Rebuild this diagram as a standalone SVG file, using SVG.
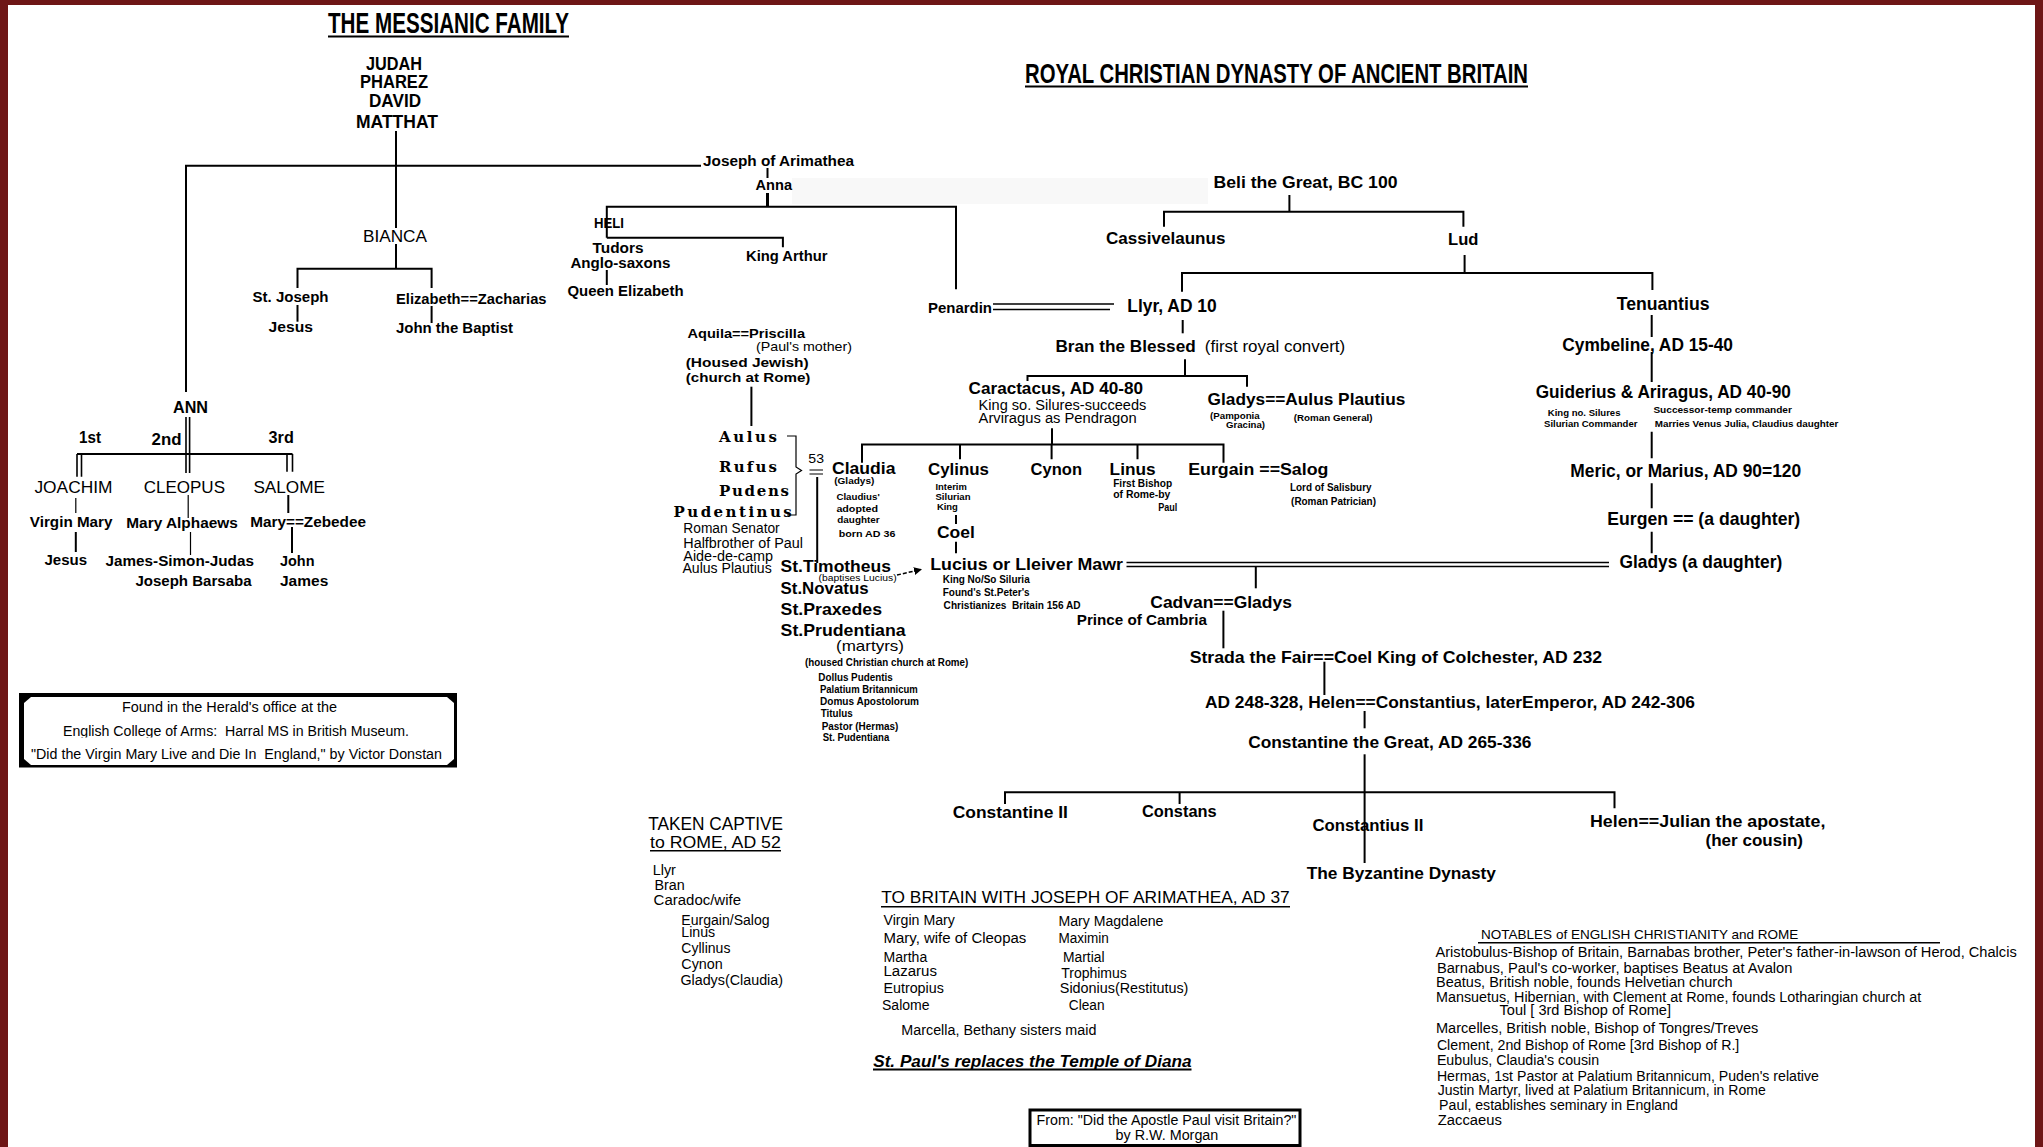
<svg xmlns="http://www.w3.org/2000/svg" width="2043" height="1147" viewBox="0 0 2043 1147">
<style>
text{fill:#000}
.b{font-family:"Liberation Sans Narrow","Liberation Sans",Arial,sans-serif;font-weight:bold}
.r{font-family:"Liberation Sans Narrow","Liberation Sans",Arial,sans-serif;font-weight:normal}
.a{font-family:"Liberation Sans",Arial,sans-serif;font-weight:normal}
.bi{font-family:"Liberation Sans",Arial,sans-serif;font-weight:bold;font-style:italic}
.s{font-family:"DejaVu Serif","Liberation Serif",serif;font-weight:bold}
.pre{white-space:pre}
.f9{font-size:9.5px}.f10{font-size:10.5px}.f12{font-size:12px}.f13{font-size:13px}.f14{font-size:14px}.f15{font-size:15px}.f16{font-size:16px}.f17{font-size:17px}.f18{font-size:18.5px}.f28{font-size:28px}.f30{font-size:30px}
.ln path,.ul{stroke:#000;stroke-width:2;fill:none}
.ln .thin{stroke-width:1.2}
.ln .thick{stroke-width:3}
.ln .dbl{stroke-width:1.6}
.ln .dash{stroke-dasharray:4 2;stroke-width:1.5}
</style>
<defs>
<marker id="arr" markerWidth="8" markerHeight="8" refX="7" refY="4" orient="auto" markerUnits="userSpaceOnUse"><path d="M0,0 L8,4 L0,8 z" fill="#000"/></marker>
<clipPath id="clipDesc"><rect x="20" y="715" width="440" height="22.5"/></clipPath>
</defs>
<rect width="2043" height="1147" fill="#6e1616"/>
<rect x="8" y="5" width="2027" height="1142" fill="#fff"/>
<rect x="792" y="178" width="416" height="26" fill="#f8f8f8"/>

<g id="titles">
<text class="b f30" x="328" y="33" textLength="241" lengthAdjust="spacingAndGlyphs">THE MESSIANIC FAMILY</text>
<line class="ul" x1="328" y1="36.5" x2="569" y2="36.5"/>
<text class="b f28" x="1025" y="83" textLength="503" lengthAdjust="spacingAndGlyphs">ROYAL CHRISTIAN DYNASTY OF ANCIENT BRITAIN</text>
<line class="ul" x1="1025" y1="86.5" x2="1528" y2="86.5"/>
</g>

<g id="connectors" class="ln">
<path d="M396,131 V228"/>
<path d="M186,392 V165.7 H701"/>
<path d="M396,244 V268.7"/>
<path d="M297.5,288 V268.7 H431.6 V288"/>
<path d="M297.5,305 V321.7"/>
<path d="M431.6,306 V323"/>
<path d="M767.5,168 V178"/>
<path class="thick" d="M767.5,193 V206"/>
<path d="M606.8,237.7 V206.7 H956 V289.3"/>
<path d="M606.8,237.7 H782.9 V247.3"/>
<path d="M606.8,270 V285"/>
<path class="dbl" d="M993,304 H1114 M993,309.5 H1110"/>
<path d="M751.4,386.7 V426"/>
<path class="thin" d="M787,436 H796 V467 L801.5,470.5 L796,474 V515 H787"/>
<path class="thin" d="M809.5,470 H823 M809.5,474 H823"/>
<path d="M817.2,477 V563"/>
<path class="dash" d="M897,575 L921,569.5" marker-end="url(#arr)"/>
<path class="dbl" d="M186,417 V473 M189.6,417 V473"/>
<path d="M77,454 H292.5"/>
<path class="dbl" d="M77,454 V476.7 M81.5,454 V476.7"/>
<path class="dbl" d="M287,454 V471.7 M292.5,454 V471.7"/>
<path class="thin" d="M75.8,498 V513"/>
<path class="thin" d="M188.2,495 V518"/>
<path d="M288.3,495 V513"/>
<path d="M75.8,532 V552"/>
<path class="thin" d="M190.5,532 V555"/>
<path d="M292,527 V553"/>
<path d="M1289.4,195 V211.7"/>
<path d="M1164,226.7 V211.7 H1463.4 V226.7"/>
<path d="M1464.6,255 V273"/>
<path d="M1182,291.7 V273 H1652.4 V290"/>
<path d="M1182.7,320 V333.3"/>
<path d="M1185,359.3 V376"/>
<path d="M1027.5,381 V376 H1247 V386.7"/>
<path d="M1052,428.3 V444.5"/>
<path d="M862,462.7 V444.5 H1223.5 V462.7"/>
<path d="M960,444.5 V459.3 M1051.6,444.5 V459.3 M1137.5,444.5 V459.3"/>
<path d="M956,515 V524 M956,541.7 V553.3"/>
<path class="dbl" d="M1126.5,562.5 H1609 M1126.5,566.5 H1609"/>
<path d="M1255.8,567 V588.3"/>
<path d="M1223.4,610.7 V648.3"/>
<path d="M1324.4,661.7 V695"/>
<path d="M1364.6,711 V728.3"/>
<path d="M1364.6,754.3 V863"/>
<path d="M1005,804 V792.3 H1614.5 V808.3"/>
<path d="M1179.6,792.3 V804"/>
<path d="M1651.7,315 V337 M1651.7,352 V382 M1651.7,431.7 V458.3 M1651.7,483.3 V508.3 M1651.7,531.7 V553.3"/>
</g>

<g id="n-ancestors">
<text class="b f18" x="366" y="69.5" textLength="56" lengthAdjust="spacingAndGlyphs">JUDAH</text>
<text class="b f18" x="360" y="88" textLength="68" lengthAdjust="spacingAndGlyphs">PHAREZ</text>
<text class="b f18" x="369" y="106.5" textLength="52" lengthAdjust="spacingAndGlyphs">DAVID</text>
<text class="b f18" x="356" y="128" textLength="82" lengthAdjust="spacingAndGlyphs">MATTHAT</text>
</g>
<g id="n-bianca"><text class="r f17" x="363" y="241.5" textLength="64" lengthAdjust="spacingAndGlyphs">BIANCA</text></g>
<g id="n-stjoseph"><text class="b f15" x="252.5" y="301.5" textLength="76" lengthAdjust="spacingAndGlyphs">St. Joseph</text></g>
<g id="n-jesus1"><text class="b f15" x="268.6" y="332.3" textLength="44.4" lengthAdjust="spacingAndGlyphs">Jesus</text></g>
<g id="n-elizabeth"><text class="b f15" x="396" y="304" textLength="150.5" lengthAdjust="spacingAndGlyphs">Elizabeth==Zacharias</text></g>
<g id="n-john-baptist"><text class="b f15" x="396" y="333.3" textLength="117" lengthAdjust="spacingAndGlyphs">John the Baptist</text></g>
<g id="n-joseph-arimathea"><text class="b f14" x="703" y="166" textLength="151" lengthAdjust="spacingAndGlyphs">Joseph of Arimathea</text></g>
<g id="n-anna"><text class="b f14" x="755.5" y="190" textLength="36.5" lengthAdjust="spacingAndGlyphs">Anna</text></g>
<g id="n-heli"><text class="b f14" x="594" y="228.3" textLength="30" lengthAdjust="spacingAndGlyphs">HELI</text></g>
<g id="n-tudors">
<text class="b f14" x="592.5" y="253.3" textLength="51" lengthAdjust="spacingAndGlyphs">Tudors</text>
<text class="b f14" x="570.4" y="268.3" textLength="100" lengthAdjust="spacingAndGlyphs">Anglo-saxons</text>
</g>
<g id="n-queen"><text class="b f14" x="567.5" y="296" textLength="116" lengthAdjust="spacingAndGlyphs">Queen Elizabeth</text></g>
<g id="n-arthur"><text class="b f14" x="746" y="260.7" textLength="81.5" lengthAdjust="spacingAndGlyphs">King Arthur</text></g>
<g id="n-penardin"><text class="b f14" x="928" y="313.3" textLength="64" lengthAdjust="spacingAndGlyphs">Penardin</text></g>
<g id="n-aquila">
<text class="b f13" x="687.5" y="338.3" textLength="117.5" lengthAdjust="spacingAndGlyphs">Aquila==Priscilla</text>
<text class="r f13" x="756" y="351" textLength="96" lengthAdjust="spacingAndGlyphs">(Paul's mother)</text>
<text class="b f13" x="685.7" y="366.7" textLength="123" lengthAdjust="spacingAndGlyphs">(Housed Jewish)</text>
<text class="b f13" x="685.7" y="382.3" textLength="124.7" lengthAdjust="spacingAndGlyphs">(church at Rome)</text>
</g>
<g id="n-aulus">
<text class="s f15" x="719" y="441.7" textLength="58" lengthAdjust="spacing">Aulus</text>
<text class="s f15" x="719" y="471.7" textLength="58" lengthAdjust="spacing">Rufus</text>
<text class="s f15" x="719" y="496" textLength="70" lengthAdjust="spacing">Pudens</text>
<text class="s f15" x="673.5" y="517.3" textLength="118.3" lengthAdjust="spacing">Pudentinus</text>
<text class="r f14" x="683.3" y="533.3" textLength="96.4" lengthAdjust="spacingAndGlyphs">Roman Senator</text>
<text class="r f14" x="683.3" y="547.7" textLength="119.7" lengthAdjust="spacingAndGlyphs">Halfbrother of Paul</text>
<text class="r f14" x="683.3" y="560.7" textLength="89.7" lengthAdjust="spacingAndGlyphs">Aide-de-camp</text>
<text class="r f14" x="682.4" y="573.3" textLength="89.3" lengthAdjust="spacingAndGlyphs">Aulus Plautius</text>
<text class="r f12" x="808.3" y="463.3" textLength="15.7" lengthAdjust="spacingAndGlyphs">53</text>
</g>
<g id="n-timotheus">
<text class="b f17" x="780.6" y="571.7" textLength="110.3" lengthAdjust="spacingAndGlyphs">St.Timotheus</text>
<text class="r f9" x="818.6" y="580.5" textLength="78" lengthAdjust="spacingAndGlyphs">(baptises Lucius)</text>
<text class="b f17" x="780.6" y="594" textLength="88" lengthAdjust="spacingAndGlyphs">St.Novatus</text>
<text class="b f17" x="780.6" y="615" textLength="101.4" lengthAdjust="spacingAndGlyphs">St.Praxedes</text>
<text class="b f17" x="780.6" y="635.5" textLength="125" lengthAdjust="spacingAndGlyphs">St.Prudentiana</text>
<text class="r f15" x="836" y="651" textLength="68" lengthAdjust="spacingAndGlyphs">(martyrs)</text>
<text class="b f10" x="805" y="665.7" textLength="163.3" lengthAdjust="spacingAndGlyphs">(housed Christian church at Rome)</text>
<text class="b f10" x="818.3" y="681" textLength="74.4" lengthAdjust="spacingAndGlyphs">Dollus Pudentis</text>
<text class="b f10" x="820" y="693.3" textLength="97.7" lengthAdjust="spacingAndGlyphs">Palatium Britannicum</text>
<text class="b f10" x="820" y="705" textLength="99" lengthAdjust="spacingAndGlyphs">Domus Apostolorum</text>
<text class="b f10" x="820.7" y="716.7" textLength="32" lengthAdjust="spacingAndGlyphs">Titulus</text>
<text class="b f10" x="821.7" y="730" textLength="76.6" lengthAdjust="spacingAndGlyphs">Pastor (Hermas)</text>
<text class="b f10" x="822.7" y="740.7" textLength="66.6" lengthAdjust="spacingAndGlyphs">St. Pudentiana</text>
</g>

<g id="n-ann">
<text class="b f17" x="173" y="412.7" textLength="35" lengthAdjust="spacingAndGlyphs">ANN</text>
<text class="b f17" x="79" y="442.7" textLength="22" lengthAdjust="spacingAndGlyphs">1st</text>
<text class="b f17" x="151.5" y="445" textLength="30" lengthAdjust="spacingAndGlyphs">2nd</text>
<text class="b f17" x="268.6" y="443.3" textLength="25.2" lengthAdjust="spacingAndGlyphs">3rd</text>
</g>
<g id="n-joachim"><text class="r f17" x="34.4" y="493.3" textLength="78.1" lengthAdjust="spacingAndGlyphs">JOACHIM</text></g>
<g id="n-cleopus"><text class="r f17" x="143.7" y="492.7" textLength="81.3" lengthAdjust="spacingAndGlyphs">CLEOPUS</text></g>
<g id="n-salome"><text class="r f17" x="253.4" y="492.7" textLength="71.6" lengthAdjust="spacingAndGlyphs">SALOME</text></g>
<g id="n-virgin-mary"><text class="b f15" x="29.8" y="527.3" textLength="82.7" lengthAdjust="spacingAndGlyphs">Virgin Mary</text></g>
<g id="n-mary-alphaews"><text class="b f15" x="126.3" y="528.3" textLength="111.5" lengthAdjust="spacingAndGlyphs">Mary Alphaews</text></g>
<g id="n-mary-zebedee"><text class="b f15" x="250.2" y="527.3" textLength="115.8" lengthAdjust="spacingAndGlyphs">Mary==Zebedee</text></g>
<g id="n-jesus2"><text class="b f15" x="44.5" y="565" textLength="42.7" lengthAdjust="spacingAndGlyphs">Jesus</text></g>
<g id="n-james-simon">
<text class="b f15" x="105.6" y="566" textLength="148.3" lengthAdjust="spacingAndGlyphs">James-Simon-Judas</text>
<text class="b f15" x="135.4" y="586" textLength="116.2" lengthAdjust="spacingAndGlyphs">Joseph Barsaba</text>
</g>
<g id="n-john-james">
<text class="b f15" x="280" y="566" textLength="34.5" lengthAdjust="spacingAndGlyphs">John</text>
<text class="b f15" x="280" y="586" textLength="48.3" lengthAdjust="spacingAndGlyphs">James</text>
</g>

<g id="box-herald">
<rect x="19" y="693" width="438" height="74.5" fill="#000"/>
<polygon points="31,697 447,697 454,703 454,759 447,765 31,765 24,759 24,703" fill="#fff"/>
<text class="a f14" x="122" y="711.5" textLength="215" lengthAdjust="spacingAndGlyphs">Found in the Herald's office at the</text>
<text class="a f14 pre" x="63" y="736" textLength="346" lengthAdjust="spacingAndGlyphs" clip-path="url(#clipDesc)">English College of Arms:  Harral MS in British Museum.</text>
<text class="a f14 pre" x="31" y="758.5" textLength="411" lengthAdjust="spacingAndGlyphs">"Did the Virgin Mary Live and Die In  England," by Victor Donstan</text>
</g>

<g id="n-beli"><text class="b f17" x="1213.5" y="188.3" textLength="184" lengthAdjust="spacingAndGlyphs">Beli the Great, BC 100</text></g>
<g id="n-cassivelaunus"><text class="b f17" x="1106" y="244" textLength="119.4" lengthAdjust="spacingAndGlyphs">Cassivelaunus</text></g>
<g id="n-lud"><text class="b f17" x="1448" y="245" textLength="30.4" lengthAdjust="spacingAndGlyphs">Lud</text></g>
<g id="n-llyr"><text class="b f18" x="1127.3" y="311.7" textLength="89.4" lengthAdjust="spacingAndGlyphs">Llyr, AD 10</text></g>
<g id="n-bran">
<text class="b f17" x="1055.4" y="351.7" textLength="140.3" lengthAdjust="spacingAndGlyphs">Bran the Blessed</text>
<text class="r f16" x="1204.8" y="351.7" textLength="140.4" lengthAdjust="spacingAndGlyphs">(first royal convert)</text>
</g>
<g id="n-caractacus">
<text class="b f17" x="968.6" y="394" textLength="174.4" lengthAdjust="spacingAndGlyphs">Caractacus, AD 40-80</text>
<text class="r f14" x="978.6" y="410" textLength="167.7" lengthAdjust="spacingAndGlyphs">King so. Silures-succeeds</text>
<text class="r f14" x="978.6" y="423.3" textLength="158" lengthAdjust="spacingAndGlyphs">Arviragus as Pendragon</text>
</g>
<g id="n-gladys-aulus">
<text class="b f17" x="1207.6" y="405" textLength="197.7" lengthAdjust="spacingAndGlyphs">Gladys==Aulus Plautius</text>
<text class="b f9" x="1210" y="419" textLength="49.7" lengthAdjust="spacingAndGlyphs">(Pamponia</text>
<text class="b f9" x="1226" y="428.3" textLength="39" lengthAdjust="spacingAndGlyphs">Gracina)</text>
<text class="b f9" x="1293.8" y="420.7" textLength="78.8" lengthAdjust="spacingAndGlyphs">(Roman General)</text>
</g>
<g id="n-claudia">
<text class="b f17" x="832" y="474" textLength="63.4" lengthAdjust="spacingAndGlyphs">Claudia</text>
<text class="b f9" x="834.2" y="484.3" textLength="40.2" lengthAdjust="spacingAndGlyphs">(Gladys)</text>
<text class="b f9" x="836.4" y="500" textLength="43.3" lengthAdjust="spacingAndGlyphs">Claudius'</text>
<text class="b f9" x="836.4" y="512.3" textLength="41.6" lengthAdjust="spacingAndGlyphs">adopted</text>
<text class="b f9" x="837.3" y="523.3" textLength="42.4" lengthAdjust="spacingAndGlyphs">daughter</text>
<text class="b f9" x="838.7" y="536.7" textLength="56.7" lengthAdjust="spacingAndGlyphs">born AD 36</text>
</g>
<g id="n-cylinus">
<text class="b f17" x="928" y="475" textLength="61" lengthAdjust="spacingAndGlyphs">Cylinus</text>
<text class="b f9" x="935.5" y="490" textLength="31.3" lengthAdjust="spacingAndGlyphs">Interim</text>
<text class="b f9" x="935.5" y="500" textLength="35" lengthAdjust="spacingAndGlyphs">Silurian</text>
<text class="b f9" x="936.9" y="510" textLength="21" lengthAdjust="spacingAndGlyphs">King</text>
</g>
<g id="n-coel"><text class="b f17" x="936.9" y="538.3" textLength="37.9" lengthAdjust="spacingAndGlyphs">Coel</text></g>
<g id="n-cynon"><text class="b f17" x="1030.6" y="475" textLength="51.4" lengthAdjust="spacingAndGlyphs">Cynon</text></g>
<g id="n-linus">
<text class="b f17" x="1109.6" y="475" textLength="46" lengthAdjust="spacingAndGlyphs">Linus</text>
<text class="b f10" x="1113.2" y="487.3" textLength="58.9" lengthAdjust="spacingAndGlyphs">First Bishop</text>
<text class="b f10" x="1113.2" y="497.7" textLength="57.2" lengthAdjust="spacingAndGlyphs">of Rome-by</text>
<text class="b f10" x="1158.3" y="511" textLength="19.1" lengthAdjust="spacingAndGlyphs">Paul</text>
</g>
<g id="n-eurgain">
<text class="b f17 pre" x="1188.2" y="475" textLength="140.2" lengthAdjust="spacingAndGlyphs">Eurgain ==Salog</text>
<text class="b f10" x="1290" y="490.7" textLength="81.5" lengthAdjust="spacingAndGlyphs">Lord of Salisbury</text>
<text class="b f10" x="1291.1" y="505" textLength="84.9" lengthAdjust="spacingAndGlyphs">(Roman Patrician)</text>
</g>
<g id="n-lucius">
<text class="b f17" x="930.2" y="570" textLength="192.8" lengthAdjust="spacingAndGlyphs">Lucius or Lleiver Mawr</text>
<text class="b f10" x="942.7" y="583.3" textLength="87" lengthAdjust="spacingAndGlyphs">King No/So Siluria</text>
<text class="b f10" x="942.7" y="596" textLength="87" lengthAdjust="spacingAndGlyphs">Found's St.Peter's</text>
<text class="b f10 pre" x="943.6" y="609" textLength="137" lengthAdjust="spacingAndGlyphs">Christianizes  Britain 156 AD</text>
</g>
<g id="n-cadvan">
<text class="b f17" x="1150.3" y="608.3" textLength="141.6" lengthAdjust="spacingAndGlyphs">Cadvan==Gladys</text>
<text class="b f15" x="1076.8" y="625" textLength="130.1" lengthAdjust="spacingAndGlyphs">Prince of Cambria</text>
</g>
<g id="n-strada"><text class="b f17" x="1189.7" y="663.3" textLength="412.5" lengthAdjust="spacingAndGlyphs">Strada the Fair==Coel King of Colchester, AD 232</text></g>
<g id="n-helen"><text class="b f17" x="1205" y="708.3" textLength="490" lengthAdjust="spacingAndGlyphs">AD 248-328, Helen==Constantius, laterEmperor, AD 242-306</text></g>
<g id="n-constantine"><text class="b f17" x="1248.2" y="747.7" textLength="283.2" lengthAdjust="spacingAndGlyphs">Constantine the Great, AD 265-336</text></g>
<g id="n-constantine2"><text class="b f17" x="952.7" y="818.3" textLength="115.2" lengthAdjust="spacingAndGlyphs">Constantine II</text></g>
<g id="n-constans"><text class="b f17" x="1142" y="817.3" textLength="74.7" lengthAdjust="spacingAndGlyphs">Constans</text></g>
<g id="n-constantius2"><text class="b f17" x="1312.4" y="830.7" textLength="111" lengthAdjust="spacingAndGlyphs">Constantius II</text></g>
<g id="n-byzantine"><text class="b f17" x="1306.7" y="879.3" textLength="189.3" lengthAdjust="spacingAndGlyphs">The Byzantine Dynasty</text></g>
<g id="n-helen-julian">
<text class="b f17" x="1590" y="827.3" textLength="235.4" lengthAdjust="spacingAndGlyphs">Helen==Julian the apostate,</text>
<text class="b f17" x="1705.5" y="846" textLength="97.5" lengthAdjust="spacingAndGlyphs">(her cousin)</text>
</g>
<g id="n-tenuantius"><text class="b f18" x="1616.7" y="310" textLength="92.8" lengthAdjust="spacingAndGlyphs">Tenuantius</text></g>
<g id="n-cymbeline"><text class="b f18" x="1562.3" y="350.7" textLength="170.7" lengthAdjust="spacingAndGlyphs">Cymbeline, AD 15-40</text></g>
<g id="n-guiderius">
<text class="b f18" x="1535.7" y="398.3" textLength="255.2" lengthAdjust="spacingAndGlyphs">Guiderius &amp; Ariragus, AD 40-90</text>
<text class="b f9" x="1547.8" y="415.7" textLength="72.7" lengthAdjust="spacingAndGlyphs">King no. Silures</text>
<text class="b f9" x="1544" y="426.7" textLength="93.5" lengthAdjust="spacingAndGlyphs">Silurian Commander</text>
<text class="b f9" x="1653.4" y="413.3" textLength="138.5" lengthAdjust="spacingAndGlyphs">Successor-temp commander</text>
<text class="b f9" x="1654.8" y="426.7" textLength="183.5" lengthAdjust="spacingAndGlyphs">Marries Venus Julia, Claudius daughter</text>
</g>
<g id="n-meric"><text class="b f18" x="1570.3" y="477.3" textLength="230.9" lengthAdjust="spacingAndGlyphs">Meric, or Marius, AD 90=120</text></g>
<g id="n-eurgen"><text class="b f18" x="1607.3" y="525" textLength="192.9" lengthAdjust="spacingAndGlyphs">Eurgen == (a daughter)</text></g>
<g id="n-gladys-daughter"><text class="b f18" x="1619.5" y="568.3" textLength="162.7" lengthAdjust="spacingAndGlyphs">Gladys (a daughter)</text></g>

<g id="list-captive">
<text class="a f18" x="648.2" y="830" textLength="134.8" lengthAdjust="spacingAndGlyphs">TAKEN CAPTIVE</text>
<text class="a f17" x="650" y="848.3" textLength="130.8" lengthAdjust="spacingAndGlyphs">to ROME, AD 52</text>
<line class="ul" x1="650" y1="850.8" x2="781" y2="850.8" style="stroke-width:1.4"/>
<text class="a f14" x="652.7" y="875" textLength="23.2" lengthAdjust="spacingAndGlyphs">Llyr</text>
<text class="a f14" x="654.5" y="890" textLength="30.3" lengthAdjust="spacingAndGlyphs">Bran</text>
<text class="a f14" x="653.6" y="905" textLength="87.4" lengthAdjust="spacingAndGlyphs">Caradoc/wife</text>
<text class="a f14" x="681.3" y="925" textLength="88.3" lengthAdjust="spacingAndGlyphs">Eurgain/Salog</text>
<text class="a f14" x="681.3" y="937.3" textLength="33.9" lengthAdjust="spacingAndGlyphs">Linus</text>
<text class="a f14" x="681.3" y="953.3" textLength="49.1" lengthAdjust="spacingAndGlyphs">Cyllinus</text>
<text class="a f14" x="681.3" y="969.3" textLength="41.5" lengthAdjust="spacingAndGlyphs">Cynon</text>
<text class="a f14" x="680.4" y="985" textLength="102.6" lengthAdjust="spacingAndGlyphs">Gladys(Claudia)</text>
</g>

<g id="list-britain">
<text class="a f17" x="881.3" y="903.3" textLength="408.4" lengthAdjust="spacingAndGlyphs">TO BRITAIN WITH JOSEPH OF ARIMATHEA, AD 37</text>
<line class="ul" x1="881" y1="906.8" x2="1290" y2="906.8" style="stroke-width:1.4"/>
<text class="a f14" x="883.5" y="925" textLength="71.4" lengthAdjust="spacingAndGlyphs">Virgin Mary</text>
<text class="a f14" x="883.5" y="943.3" textLength="142.8" lengthAdjust="spacingAndGlyphs">Mary, wife of Cleopas</text>
<text class="a f14" x="883.5" y="961.7" textLength="43.7" lengthAdjust="spacingAndGlyphs">Martha</text>
<text class="a f14" x="883.5" y="976" textLength="53.5" lengthAdjust="spacingAndGlyphs">Lazarus</text>
<text class="a f14" x="883.5" y="992.7" textLength="60.3" lengthAdjust="spacingAndGlyphs">Eutropius</text>
<text class="a f14" x="882" y="1010" textLength="47.5" lengthAdjust="spacingAndGlyphs">Salome</text>
<text class="a f14" x="1058.5" y="926" textLength="104.9" lengthAdjust="spacingAndGlyphs">Mary Magdalene</text>
<text class="a f14" x="1058.5" y="943.3" textLength="50.4" lengthAdjust="spacingAndGlyphs">Maximin</text>
<text class="a f14" x="1063" y="961.7" textLength="41.5" lengthAdjust="spacingAndGlyphs">Martial</text>
<text class="a f14" x="1061.2" y="978.3" textLength="65.6" lengthAdjust="spacingAndGlyphs">Trophimus</text>
<text class="a f14" x="1059.8" y="993.3" textLength="128.6" lengthAdjust="spacingAndGlyphs">Sidonius(Restitutus)</text>
<text class="a f14" x="1068.8" y="1010" textLength="35.7" lengthAdjust="spacingAndGlyphs">Clean</text>
<text class="a f14" x="901.3" y="1035" textLength="195.1" lengthAdjust="spacingAndGlyphs">Marcella, Bethany sisters maid</text>
<text class="bi f17" x="873.2" y="1066.7" textLength="318.3" lengthAdjust="spacingAndGlyphs">St. Paul's replaces the Temple of Diana</text>
<line class="ul" x1="873" y1="1069.6" x2="1191.5" y2="1069.6"/>
</g>

<g id="list-notables">
<text class="a f13" x="1481" y="939.3" textLength="317.4" lengthAdjust="spacingAndGlyphs">NOTABLES of ENGLISH CHRISTIANITY and ROME</text>
<line class="ul" x1="1478" y1="942.8" x2="1940" y2="942.8" style="stroke-width:1.4"/>
<text class="a f14" x="1435.5" y="957.3" textLength="581.2" lengthAdjust="spacingAndGlyphs">Aristobulus-Bishop of Britain, Barnabas brother, Peter's father-in-lawson of Herod, Chalcis</text>
<text class="a f14" x="1436.9" y="972.7" textLength="355.6" lengthAdjust="spacingAndGlyphs">Barnabus, Paul's co-worker, baptises Beatus at Avalon</text>
<text class="a f14" x="1436" y="987.3" textLength="296.5" lengthAdjust="spacingAndGlyphs">Beatus, British noble, founds Helvetian church</text>
<text class="a f14" x="1436" y="1001.7" textLength="485.2" lengthAdjust="spacingAndGlyphs">Mansuetus, Hibernian, with Clement at Rome, founds Lotharingian church at</text>
<text class="a f14" x="1499.6" y="1015" textLength="171.4" lengthAdjust="spacingAndGlyphs">Toul [ 3rd Bishop of Rome]</text>
<text class="a f14" x="1436" y="1032.7" textLength="322.4" lengthAdjust="spacingAndGlyphs">Marcelles, British noble, Bishop of Tongres/Treves</text>
<text class="a f14" x="1436.9" y="1050" textLength="302.4" lengthAdjust="spacingAndGlyphs">Clement, 2nd Bishop of Rome [3rd Bishop of R.]</text>
<text class="a f14" x="1436.9" y="1065" textLength="162.3" lengthAdjust="spacingAndGlyphs">Eubulus, Claudia's cousin</text>
<text class="a f14" x="1436.9" y="1080.7" textLength="382" lengthAdjust="spacingAndGlyphs">Hermas, 1st Pastor at Palatium Britannicum, Puden's relative</text>
<text class="a f14" x="1437.8" y="1095" textLength="327.9" lengthAdjust="spacingAndGlyphs">Justin Martyr, lived at Palatium Britannicum, in Rome</text>
<text class="a f14" x="1439.1" y="1110" textLength="238.8" lengthAdjust="spacingAndGlyphs">Paul, establishes seminary in England</text>
<text class="a f14" x="1437.8" y="1125" textLength="64.1" lengthAdjust="spacingAndGlyphs">Zaccaeus</text>
</g>

<g id="box-morgan">
<rect x="1030" y="1110" width="270" height="35.5" fill="#fff" stroke="#000" stroke-width="3"/>
<text class="a f14" x="1036.6" y="1125" textLength="259.8" lengthAdjust="spacingAndGlyphs">From: "Did the Apostle Paul visit Britain?"</text>
<text class="a f14" x="1115.6" y="1140" textLength="102.7" lengthAdjust="spacingAndGlyphs">by R.W. Morgan</text>
</g>
</svg>
